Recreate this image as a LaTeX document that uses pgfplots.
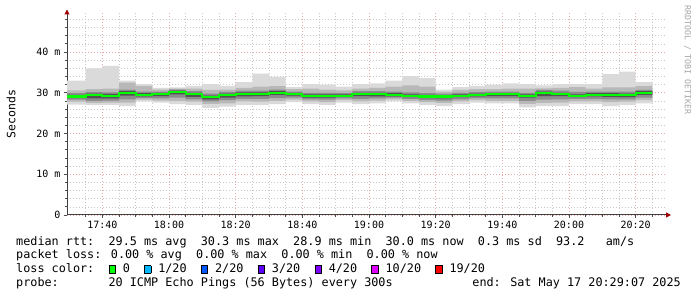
\documentclass[border=0pt]{standalone}
\usepackage{fontspec}
\setmainfont{DejaVu Sans Mono}
\setmonofont{DejaVu Sans Mono}
\usepackage{pgfplots}
\usepackage{pgfplotstable}
\pgfplotsset{compat=1.18}
\usepgfplotslibrary{fillbetween}
\usetikzlibrary{arrows.meta}

\definecolor{smokeA}{HTML}{DADADA}
\definecolor{smokeB}{HTML}{B8B8B8}
\definecolor{smokeC}{HTML}{8C8C8C}
\definecolor{smokeD}{HTML}{525252}
\definecolor{medgreen}{HTML}{00FF00}
\definecolor{gridminor}{HTML}{C8C8C8}
\definecolor{gridmajor}{HTML}{E8A8A8}
\definecolor{arrowred}{HTML}{A00000}
\definecolor{loss1}{HTML}{00B8FF}
\definecolor{loss2}{HTML}{0059FF}
\definecolor{loss3}{HTML}{5E00FF}
\definecolor{loss4}{HTML}{7E00FF}
\definecolor{loss10}{HTML}{DD00FF}
\definecolor{loss19}{HTML}{FF0000}

\setlength\fboxsep{0pt}
\setlength\fboxrule{0.9pt}
\newcommand\lbox[1]{\makebox[7.1pt][l]{\fcolorbox{black}{#1}{\rule{0pt}{7pt}\rule{5.6pt}{0pt}}}}
\newcommand\legfont{\fontsize{11.8}{14}\selectfont}

% t = minutes after 17:00 (start of each 5-min step)
\pgfplotstableread{
t mn l2 l3 l4 med h4 h3 h2 mx
29 27.1 27.8 28.3 28.7 29.1 29.5 29.9 30.6 33.0
35 27.0 27.5 28.0 28.6 29.4 29.8 30.2 30.9 36.0
40 27.0 27.6 28.1 28.6 29.3 29.7 30.1 31.0 36.6
45 26.7 27.6 28.4 29.3 30.0 30.4 30.8 32.5 33.0
50 27.9 28.3 28.7 29.1 29.5 29.9 30.3 31.6 32.1
55 27.6 28.1 28.6 29.2 29.7 30.0 30.3 30.8 31.2
60 27.2 28.0 28.8 29.6 30.2 30.5 30.8 31.0 31.3
65 27.0 27.8 28.4 29.0 29.6 30.0 30.4 31.0 31.7
70 26.3 27.3 27.9 28.4 28.9 29.3 29.8 30.7 32.1
75 26.6 27.4 28.2 28.8 29.4 29.8 30.2 30.8 31.7
80 27.0 27.9 28.5 29.1 29.7 30.1 30.5 31.2 32.6
85 27.0 27.8 28.5 29.2 29.7 30.1 30.5 31.5 34.7
90 27.2 28.0 28.7 29.5 30.0 30.4 30.8 31.6 33.9
95 27.7 28.3 28.8 29.3 29.7 30.0 30.3 30.9 31.4
100 27.2 27.9 28.4 28.8 29.2 29.6 30.0 31.0 32.1
105 27.0 27.7 28.3 28.8 29.3 29.6 30.0 30.8 32.0
110 27.6 28.2 28.6 29.0 29.3 29.6 29.9 30.6 31.5
115 27.2 27.9 28.5 29.2 29.7 30.0 30.4 31.0 32.1
120 27.4 28.1 28.6 29.1 29.6 30.0 30.4 31.2 32.3
125 27.9 28.4 28.8 29.1 29.5 29.9 30.3 31.5 33.0
130 27.4 28.0 28.5 28.9 29.2 29.6 30.1 31.8 34.1
135 27.0 27.7 28.2 28.7 29.1 29.5 29.9 31.5 33.6
140 26.7 27.5 28.1 28.6 29.1 29.4 29.8 30.3 30.8
145 27.2 27.9 28.4 28.9 29.3 29.6 30.0 30.7 31.4
150 27.6 28.2 28.7 29.1 29.5 29.8 30.2 30.9 31.7
155 27.4 28.0 28.6 29.2 29.6 29.9 30.3 30.9 32.0
160 27.4 28.0 28.6 29.2 29.6 29.9 30.3 31.0 32.3
165 26.4 27.3 28.0 28.8 29.3 29.6 30.0 31.0 32.1
170 26.7 27.5 28.3 29.2 30.0 30.3 30.7 31.1 31.8
175 26.7 27.6 28.4 29.2 29.7 30.0 30.5 31.2 32.1
180 27.2 27.9 28.5 28.9 29.2 29.6 30.2 31.4 32.1
185 27.2 27.9 28.5 29.1 29.5 29.9 30.3 31.0 32.1
190 26.7 27.7 28.4 29.0 29.5 29.9 30.3 31.3 34.6
195 27.0 27.8 28.4 28.9 29.5 29.8 30.3 31.3 35.2
200 27.4 28.2 28.8 29.5 30.0 30.4 30.7 31.6 32.6
205 27.4 28.2 28.8 29.5 30.0 30.4 30.7 31.6 32.6
}\smoke

\begin{document}
\begin{tikzpicture}[x=1pt,y=1pt]
\path (0,0) rectangle (697,297);
\begin{axis}[
  at={(67pt,82pt)}, anchor=south west,
  scale only axis, width=600pt, height=202.5pt,
  xmin=29.4, xmax=209.4, ymin=0, ymax=49.7,
  axis x line*=bottom, axis y line*=left,
  axis line style={black!75, line width=1pt},
  x axis line style={-{Triangle[length=5pt,width=5pt,color=arrowred]}, shorten >=-4pt},
  y axis line style={-{Triangle[length=5pt,width=5pt,color=arrowred]}, shorten >=-3pt},
  xtick={40,60,80,100,120,140,160,180,200},
  xticklabels={17:40,18:00,18:20,18:40,19:00,19:20,19:40,20:00,20:20},
  minor xtick={35,45,50,55,65,70,75,85,90,95,105,110,115,125,130,135,145,150,155,165,170,175,185,190,195,205},
  ytick={0,10,20,30,40},
  yticklabels={0,10 m,20 m,30 m,40 m},
  minor ytick={2,4,6,8,12,14,16,18,22,24,26,28,32,34,36,38,42,44,46,48},
  grid=both,
  major grid style={gridmajor, dash pattern=on 1pt off 2pt, line width=0.65pt},
  minor grid style={gridminor, dash pattern=on 1pt off 2pt, line width=0.65pt},
  tick align=outside, major tick length=3pt, minor tick length=2pt,
  tick style={black!70, line width=0.8pt},
  ticklabel style={font=\fontsize{10}{12}\selectfont, text=black},
  no markers,
]
\addplot[name path=pmx, draw=none, const plot mark left, forget plot] table[x=t,y=mx]{\smoke};
\addplot[name path=pmn, draw=none, const plot mark left, forget plot] table[x=t,y=mn]{\smoke};
\addplot[name path=ph2, draw=none, const plot mark left, forget plot] table[x=t,y=h2]{\smoke};
\addplot[name path=pl2, draw=none, const plot mark left, forget plot] table[x=t,y=l2]{\smoke};
\addplot[name path=ph3, draw=none, const plot mark left, forget plot] table[x=t,y=h3]{\smoke};
\addplot[name path=pl3, draw=none, const plot mark left, forget plot] table[x=t,y=l3]{\smoke};
\addplot[name path=ph4, draw=none, const plot mark left, forget plot] table[x=t,y=h4]{\smoke};
\addplot[name path=pl4, draw=none, const plot mark left, forget plot] table[x=t,y=l4]{\smoke};
\addplot[fill=smokeA, draw=none] fill between[of=pmx and pmn];
\addplot[fill=smokeB, draw=none] fill between[of=ph2 and pl2];
\addplot[fill=smokeC, draw=none] fill between[of=ph3 and pl3];
\addplot[fill=smokeD, draw=none] fill between[of=ph4 and pl4];
\addplot[medgreen, line width=2.2pt, const plot mark left] table[x=t,y=med]{\smoke};
\end{axis}

\node[rotate=90, font=\fontsize{11.5}{13}\selectfont, inner sep=0] at (11,183) {Seconds};
\node[rotate=-90, font=\fontsize{8.3}{10}\selectfont, text=black!35, inner sep=0] at (687.5,237) {RRDTOOL / TOBI OETIKER};

\node[anchor=base west, inner sep=0, font=\legfont] at (16,51.7) {median rtt:~~29.5 ms avg~~30.3 ms max~~28.9 ms min~~30.0 ms now~~0.3 ms sd~~93.2~~~am/s};
\node[anchor=base west, inner sep=0, font=\legfont] at (16,38) {packet loss: 0.00 \% avg~~0.00 \% max~~0.00 \% min~~0.00 \% now};
\node[anchor=base west, inner sep=0, font=\legfont] at (16,24) {loss color:~~\lbox{medgreen} 0~~\lbox{loss1} 1/20~~\lbox{loss2} 2/20~~\lbox{loss3} 3/20~~\lbox{loss4} 4/20~~\lbox{loss10} 10/20~~\lbox{loss19} 19/20};
\node[anchor=base west, inner sep=0, font=\legfont] at (16,10.3) {probe:~~~~~~~20 ICMP Echo Pings (56 Bytes) every 300s};
\node[anchor=base east, inner sep=0, font=\legfont] at (681,10.3) {end: Sat May 17 20:29:07 2025};
\end{tikzpicture}
\end{document}
